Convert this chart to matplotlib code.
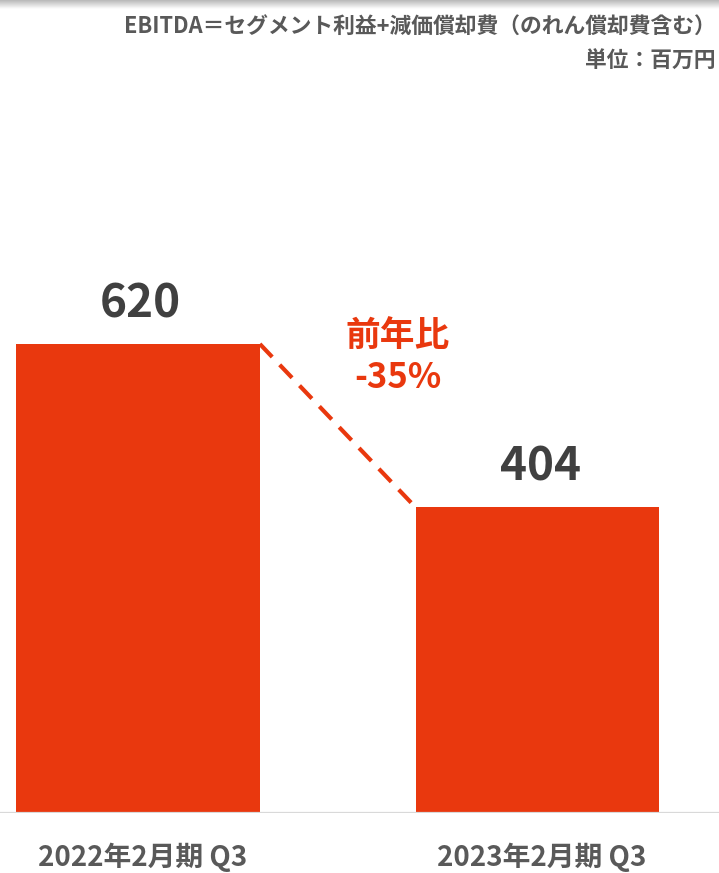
import numpy as np
import matplotlib.pyplot as plt

plt.rcParams['font.family'] = ['Noto Sans CJK JP', 'DejaVu Sans']

periods = ['2022年2月期 Q3', '2023年2月期 Q3']
ebitda = [620, 404]
yoy_label = '前年比\n-35%'
note_def = 'EBITDA＝セグメント利益+減価償却費（のれん償却費含む）'
note_unit = '単位：百万円'

RED = '#E9380E'
DARK = '#404040'
GRAY = '#595959'

W, H = 719, 873
fig = plt.figure(figsize=(W / 100, H / 100), dpi=100)

# axes: baseline at y=813px, bars placed by pixel positions
ax = fig.add_axes([0, (H - 813) / H, 1, 813 / H])
x = np.arange(len(periods))
bw = 0.61
ax.bar(x, ebitda, width=bw, color=RED, zorder=2)
ax.set_xlim(-138 / 399.5, (W - 138) / 399.5)
ax.set_ylim(0, 813 / (469 / 620))
ax.axhline(0, color='#d9d9d9', lw=1.6, zorder=3)
ax.axis('off')

for xi, v in zip(x, ebitda):
    ax.annotate(f'{v}', (xi, v), xytext=(2, 12), textcoords='offset points',
                ha='center', va='bottom', fontsize=33, fontweight='bold',
                color=DARK)

# dashed connector between bar tops
ax.plot([x[0] + bw / 2, x[1] - bw / 2], ebitda, color=RED, lw=3,
        dashes=(4.3, 2.6), solid_capstyle='butt', zorder=3)

fig.text(398 / W, 1 - 357 / H, yoy_label, ha='center', va='center',
         fontsize=25, fontweight='bold', color=RED, linespacing=1.2)

for xi, lab in zip(x, periods):
    ax.annotate(lab, (xi, 0), xytext=(3, -32), textcoords='offset points',
                ha='center', va='center', fontsize=20, fontweight='bold',
                color=GRAY, annotation_clip=False)

fig.text(716 / W, 1 - 26 / H, note_def, ha='right', va='center',
         fontsize=15.7, fontweight='bold', color=GRAY)
fig.text(716 / W, 1 - 61 / H, note_unit, ha='right', va='center',
         fontsize=15.7, fontweight='bold', color=GRAY)

# soft shadow along the top edge
sh = fig.add_axes([0, 1 - 9 / H, 1, 9 / H])
grad = np.linspace(0.72, 1.0, 50).reshape(-1, 1)
sh.imshow(grad, aspect='auto', cmap='gray', vmin=0, vmax=1,
          extent=[0, 1, 0, 1], origin='upper')
sh.axis('off')

fig.savefig('out.png', dpi=100)
